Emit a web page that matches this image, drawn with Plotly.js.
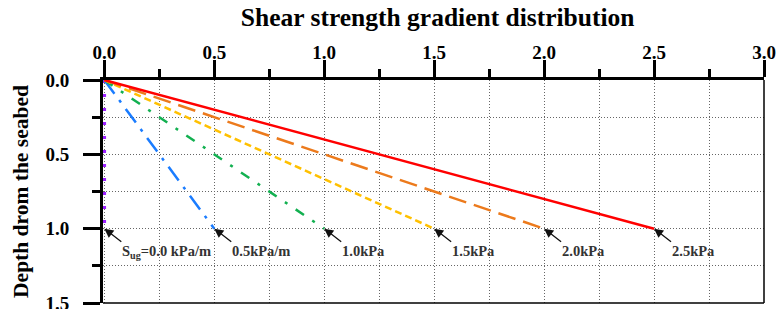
<!DOCTYPE html>
<html>
<head>
<meta charset="utf-8">
<script src="https://cdn.plot.ly/plotly-3.0.1.min.js"></script>
<style>html,body{margin:0;padding:0;background:#fff;}#chart{width:776px;height:309px;}</style>
</head>
<body>
<div id="chart"></div>
<script>
// Data
const gradients = [0.0, 0.5, 1.0, 1.5, 2.0, 2.5];
const depthStart = 0.0;
const depthEnd = 1.0;
const labels = ["S<sub>ug</sub>=0.0 kPa/m", "0.5kPa/m", "1.0kPa", "1.5kPa", "2.0kPa", "2.5kPa"];
const colors = ["#9b1fff", "#1a7cff", "#12b050", "#ffc000", "#ec7a1c", "#ff0000"];
const dashes = ["3px,11px", "17px,8px,3px,8px", "10px,10px,3px,10px", "7px,4px", "18px,8px", "solid"];
const xTicks = [0, 0.5, 1.0, 1.5, 2.0, 2.5, 3.0];
const xTickText = ["0.0", "0.5", "1.0", "1.5", "2.0", "2.5", "3.0"];
const yTicks = [0, 0.5, 1.0, 1.5];
const yTickText = ["0.0", "0.5", "1.0", "1.5"];

const font = "Liberation Serif, Times New Roman, serif";
const xRange = [-0.006, 3.0];
const yRange = [1.5, 0];

const traces = gradients.map((g, i) => ({
  type: "scatter",
  mode: "lines",
  x: [0, g],
  y: [depthStart, depthEnd],
  line: {color: colors[i], width: i === 0 ? 3.5 : 2.5, dash: dashes[i]},
  hoverinfo: "skip",
  showlegend: false
}));
// empty trace so that the label-only overlay axes exist
traces.push({type: "scatter", mode: "lines", x: [], y: [], xaxis: "x2", yaxis: "y2", showlegend: false, hoverinfo: "skip"});

const annotations = gradients.map((g, i) => ({
  x: g, y: depthEnd, xref: "x", yref: "y",
  text: labels[i], showarrow: true, arrowhead: 2, arrowsize: 1.4, arrowwidth: 1.3,
  arrowcolor: "#111", ax: 17, ay: 13, xanchor: "left", yanchor: "top", borderpad: 0,
  font: {family: font, size: 14.5, color: "#333", weight: "bold"}
}));

const tickAxis = {
  ticks: "outside", ticklen: 17, tickwidth: 3, tickcolor: "#000",
  showticklabels: false,
  showline: true, linecolor: "#000", linewidth: 3,
  showgrid: true, gridcolor: "#666", griddash: "1px,2px", gridwidth: 1,
  zeroline: false, layer: "below traces",
  minor: {dtick: 0.25, tick0: 0, ticks: "outside", ticklen: 8, tickwidth: 3, tickcolor: "#000",
          showgrid: true, gridcolor: "#666", griddash: "1px,2px", gridwidth: 1},
  fixedrange: true
};
const labelAxis = {
  ticks: "outside", tickwidth: 1, tickcolor: "rgba(0,0,0,0)",
  tickfont: {family: font, size: 19, color: "#000", weight: "bold"},
  ticklabeloverflow: "allow",
  showline: false, showgrid: false, zeroline: false,
  fixedrange: true
};

const layout = {
  width: 776, height: 309,
  margin: {l: 103, r: 12, t: 80, b: 6},
  paper_bgcolor: "#fff", plot_bgcolor: "#fff",
  showlegend: false,
  title: {
    text: "<b>Shear strength gradient distribution</b>",
    font: {family: font, size: 25.5, color: "#000"},
    x: 0.564, xanchor: "center", y: 0.945, yanchor: "middle"
  },
  xaxis: Object.assign({}, tickAxis, {side: "top", range: xRange, autorange: false, tickvals: xTicks}),
  yaxis: Object.assign({}, tickAxis, {range: yRange, autorange: false, tickvals: yTicks}),
  xaxis2: Object.assign({}, labelAxis, {
    overlaying: "x", anchor: "y2", side: "top", range: xRange, autorange: false,
    tickvals: xTicks, ticktext: xTickText, ticklen: 12
  }),
  yaxis2: Object.assign({}, labelAxis, {
    overlaying: "y", anchor: "x2", side: "left", range: yRange, autorange: false,
    tickvals: yTicks, ticktext: yTickText, ticklen: 29,
    title: {text: "<b>Depth drom the seabed</b>", font: {family: font, size: 21.5, color: "#000"}, standoff: 10}
  }),
  shapes: [
    {type: "line", xref: "paper", yref: "paper", x0: 1, x1: 1, y0: 0, y1: 1, line: {color: "#000", width: 1.5}},
    {type: "line", xref: "paper", yref: "paper", x0: 0, x1: 1, y0: 0, y1: 0, line: {color: "#000", width: 1.5}}
  ],
  annotations: annotations
};

Plotly.newPlot("chart", traces, layout, {displayModeBar: false, staticPlot: true});
</script>
</body>
</html>
